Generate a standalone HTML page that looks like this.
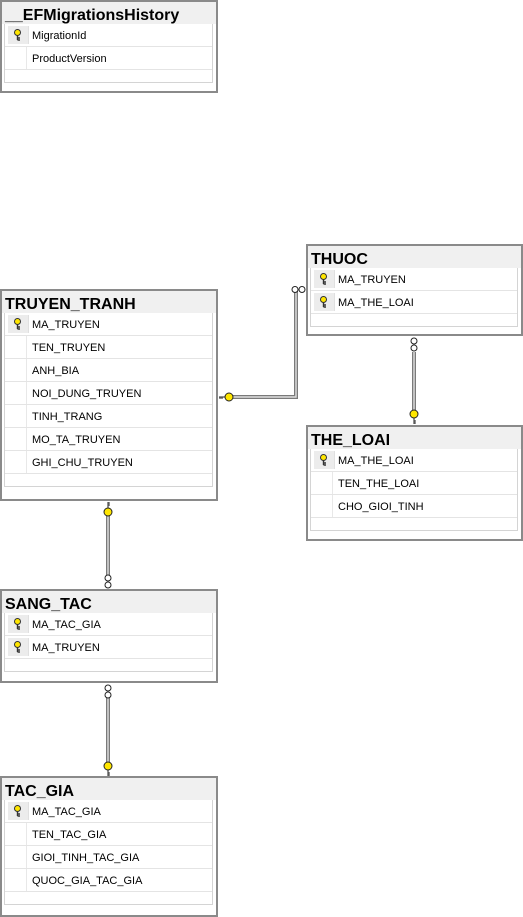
<!DOCTYPE html>
<html><head><meta charset="utf-8"><style>
body{margin:0;width:523px;height:916px;background:#fff;position:relative;overflow:hidden;font-family:"Liberation Sans",sans-serif}
.t{position:absolute;box-sizing:border-box;border:2px solid #8a8a8a;background:#fff}
.h{height:22px;background:#f0f0f0;font-weight:bold;font-size:16px;line-height:27px;padding-left:3px;color:#000}
.p{margin:0 3px 0 2px;border-left:1px solid #d4d4d4;border-right:1px solid #d4d4d4;border-bottom:1px solid #d4d4d4}
.r{position:relative;height:22px;border-bottom:1px solid #e4e4e4;font-size:11px;line-height:24px;padding-left:27px;color:#000}
.r .k{position:absolute;left:3px;top:2px;width:20px;height:18px;background:#ececec;border-right:1px solid #e0e0e0}
.r .n{position:absolute;left:21px;top:0;bottom:0;border-left:1px solid #e8e8e8}
.r .k svg{position:absolute;left:5px;top:3px}
.e{height:12px}
svg.c{position:absolute;left:0;top:0}
</style></head><body>

<div class="t" style="left:0;top:0;width:218px;height:93px">
<div class="h">__EFMigrationsHistory</div>
<div class="p">
<div class="r"><span class="k"><svg width="9" height="12"><circle cx="4.5" cy="3.5" r="3" fill="#ffe600" stroke="#333" stroke-width="1"/><path d="M4.5 6.5V11M4.5 9H7M4.5 11H7" stroke="#333" stroke-width="1.4"/></svg></span>MigrationId</div>
<div class="r"><span class="n"></span>ProductVersion</div>
<div class="e"></div></div></div>

<div class="t" style="left:0;top:289px;width:218px;height:212px">
<div class="h">TRUYEN_TRANH</div>
<div class="p">
<div class="r"><span class="k"><svg width="9" height="12"><circle cx="4.5" cy="3.5" r="3" fill="#ffe600" stroke="#333"/><path d="M4.5 6.5V11M4.5 9H7M4.5 11H7" stroke="#333" stroke-width="1.4"/></svg></span>MA_TRUYEN</div>
<div class="r"><span class="n"></span>TEN_TRUYEN</div>
<div class="r"><span class="n"></span>ANH_BIA</div>
<div class="r"><span class="n"></span>NOI_DUNG_TRUYEN</div>
<div class="r"><span class="n"></span>TINH_TRANG</div>
<div class="r"><span class="n"></span>MO_TA_TRUYEN</div>
<div class="r"><span class="n"></span>GHI_CHU_TRUYEN</div>
<div class="e"></div></div></div>

<div class="t" style="left:306px;top:244px;width:217px;height:92px">
<div class="h">THUOC</div>
<div class="p">
<div class="r"><span class="k"><svg width="9" height="12"><circle cx="4.5" cy="3.5" r="3" fill="#ffe600" stroke="#333"/><path d="M4.5 6.5V11M4.5 9H7M4.5 11H7" stroke="#333" stroke-width="1.4"/></svg></span>MA_TRUYEN</div>
<div class="r"><span class="k"><svg width="9" height="12"><circle cx="4.5" cy="3.5" r="3" fill="#ffe600" stroke="#333"/><path d="M4.5 6.5V11M4.5 9H7M4.5 11H7" stroke="#333" stroke-width="1.4"/></svg></span>MA_THE_LOAI</div>
<div class="e"></div></div></div>

<div class="t" style="left:306px;top:425px;width:217px;height:116px">
<div class="h">THE_LOAI</div>
<div class="p">
<div class="r"><span class="k"><svg width="9" height="12"><circle cx="4.5" cy="3.5" r="3" fill="#ffe600" stroke="#333"/><path d="M4.5 6.5V11M4.5 9H7M4.5 11H7" stroke="#333" stroke-width="1.4"/></svg></span>MA_THE_LOAI</div>
<div class="r"><span class="n"></span>TEN_THE_LOAI</div>
<div class="r"><span class="n"></span>CHO_GIOI_TINH</div>
<div class="e"></div></div></div>

<div class="t" style="left:0;top:589px;width:218px;height:94px">
<div class="h">SANG_TAC</div>
<div class="p">
<div class="r"><span class="k"><svg width="9" height="12"><circle cx="4.5" cy="3.5" r="3" fill="#ffe600" stroke="#333"/><path d="M4.5 6.5V11M4.5 9H7M4.5 11H7" stroke="#333" stroke-width="1.4"/></svg></span>MA_TAC_GIA</div>
<div class="r"><span class="k"><svg width="9" height="12"><circle cx="4.5" cy="3.5" r="3" fill="#ffe600" stroke="#333"/><path d="M4.5 6.5V11M4.5 9H7M4.5 11H7" stroke="#333" stroke-width="1.4"/></svg></span>MA_TRUYEN</div>
<div class="e"></div></div></div>

<div class="t" style="left:0;top:776px;width:218px;height:141px">
<div class="h">TAC_GIA</div>
<div class="p">
<div class="r"><span class="k"><svg width="9" height="12"><circle cx="4.5" cy="3.5" r="3" fill="#ffe600" stroke="#333"/><path d="M4.5 6.5V11M4.5 9H7M4.5 11H7" stroke="#333" stroke-width="1.4"/></svg></span>MA_TAC_GIA</div>
<div class="r"><span class="n"></span>TEN_TAC_GIA</div>
<div class="r"><span class="n"></span>GIOI_TINH_TAC_GIA</div>
<div class="r"><span class="n"></span>QUOC_GIA_TAC_GIA</div>
<div class="e"></div></div></div>

<svg class="c" width="523" height="916">
<g fill="none">
<polyline points="232,397 296,397 296,290" stroke="#7a7a7a" stroke-width="4"/>
<polyline points="232,397 296,397 296,290" stroke="#e0e0e0" stroke-width="1.4"/>
<line x1="414" y1="352" x2="414" y2="412" stroke="#7a7a7a" stroke-width="4"/>
<line x1="414" y1="352" x2="414" y2="412" stroke="#e0e0e0" stroke-width="1.4"/>
<line x1="108" y1="515" x2="108" y2="575" stroke="#7a7a7a" stroke-width="4"/>
<line x1="108" y1="515" x2="108" y2="575" stroke="#e0e0e0" stroke-width="1.4"/>
<line x1="108" y1="697" x2="108" y2="762" stroke="#7a7a7a" stroke-width="4"/>
<line x1="108" y1="697" x2="108" y2="762" stroke="#e0e0e0" stroke-width="1.4"/>
</g>
<g fill="#fff" stroke="#222" stroke-width="1">
<circle cx="295" cy="289.5" r="3"/><circle cx="302" cy="289.5" r="3"/>
<circle cx="414" cy="341" r="3"/><circle cx="414" cy="348" r="3"/>
<circle cx="108" cy="578" r="3"/><circle cx="108" cy="585" r="3"/>
<circle cx="108" cy="688" r="3"/><circle cx="108" cy="695" r="3"/>
</g>
<g fill="#ffe600" stroke="#222" stroke-width="1">
<circle cx="229" cy="397" r="4"/><path d="M225 397H219M222 397v2M220 397v2" fill="none"/>
<circle cx="414" cy="414" r="4"/><path d="M414 418v6M414 421h2M414 423h2" fill="none"/>
<circle cx="108" cy="512" r="4"/><path d="M108 508v-6M108 505h2M108 503h2" fill="none"/>
<circle cx="108" cy="766" r="4"/><path d="M108 770v6M108 773h2M108 775h2" fill="none"/>
</g>
</svg>
</body></html>
